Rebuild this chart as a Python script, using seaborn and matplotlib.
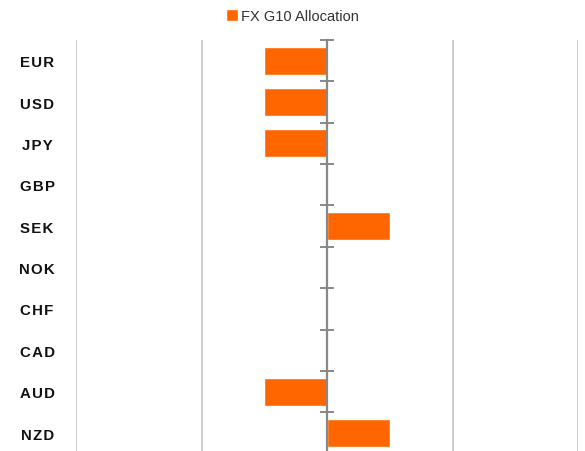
import numpy as np
import pandas as pd
import matplotlib
matplotlib.use("Agg")
import matplotlib.pyplot as plt
import seaborn as sns

categories = ["EUR", "USD", "JPY", "GBP", "SEK", "NOK", "CHF", "CAD", "AUD", "NZD"]
allocation = [-1, -1, -1, 0, 1, 0, 0, 0, -1, 1]
series_name = "FX G10 Allocation"

df = pd.DataFrame({"currency": categories, "allocation": allocation})

sns.set_theme(style="white")
plt.rcParams["font.family"] = ["Liberation Sans", "DejaVu Sans"]

fig = plt.figure(figsize=(5.85, 4.52), dpi=100)
ax = fig.add_axes([76 / 585, -0.006, (578 - 76) / 585, 0.9093 + 0.006])

sns.barplot(data=df, x="allocation", y="currency", orient="h", color="#FF6600",
            saturation=1, width=0.68, label=series_name, ax=ax)

ax.set_xlim(-4, 4)
ax.set_xticks([-4, -2, 0, 2, 4])
ax.set_xticklabels([])
ax.tick_params(axis="x", length=0)
ax.xaxis.grid(True, color="#c4c4c4", linewidth=1.2)
ax.yaxis.grid(False)
ax.set_axisbelow(True)
ax.set_xlabel("")
ax.set_ylabel("")
for s in ax.spines.values():
    s.set_visible(False)

# letter-spaced category labels
ax.set_yticks(range(len(categories)))
ax.set_yticklabels(["\u200a".join(c) for c in categories])
ax.tick_params(axis="y", length=0, pad=28)
for lbl in ax.get_yticklabels():
    lbl.set_horizontalalignment("center")
    lbl.set_fontweight("bold")
    lbl.set_fontsize(10.8)
    lbl.set_color("#111111")

# zero line with category boundary ticks
ax2 = ax.twinx()
ax2.set_ylim(ax.get_ylim())
for name, s in ax2.spines.items():
    s.set_visible(name == "right")
ax2.spines["right"].set_position(("data", 0))
ax2.spines["right"].set_color("#888888")
ax2.spines["right"].set_linewidth(1.6)
ax2.set_yticks(np.arange(-0.5, len(categories), 1.0))
ax2.set_yticklabels([])
ax2.tick_params(axis="y", direction="inout", length=10, width=1.4, color="#888888")
ax2.grid(False)

leg = ax.legend(loc="center", bbox_to_anchor=(0.5, 1 - 17 / 452),
                bbox_transform=fig.transFigure, frameon=False,
                handlelength=0.8, handleheight=0.8, handletextpad=0.25,
                fontsize=10.5, borderaxespad=0)
for t in leg.get_texts():
    t.set_color("#333333")

fig.savefig("out.png", dpi=100)
